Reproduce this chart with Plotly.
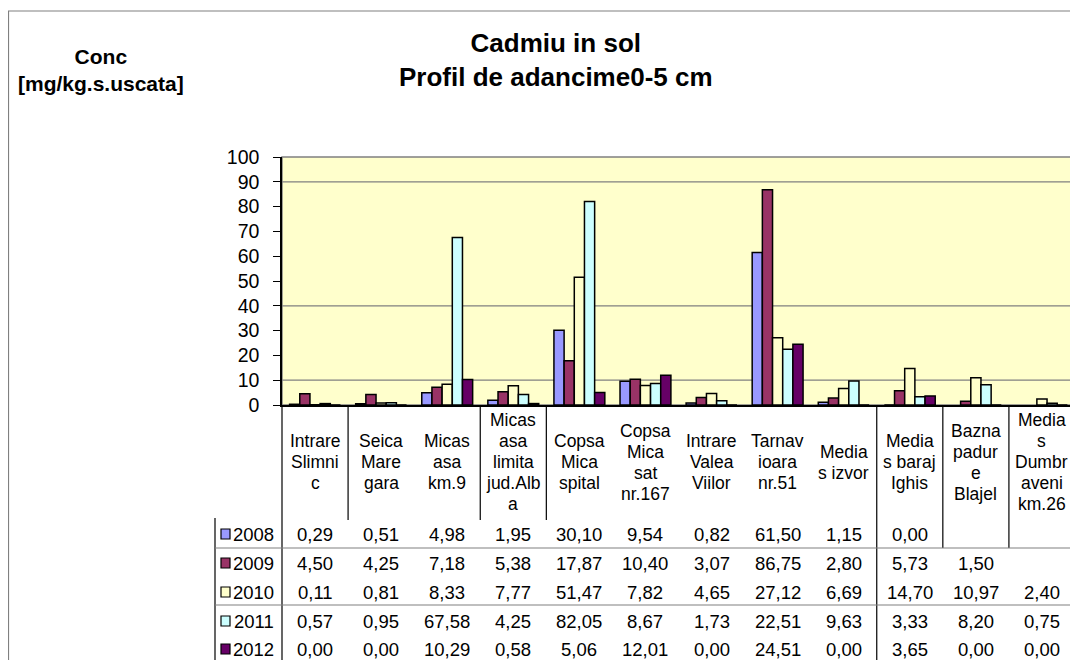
import plotly.graph_objects as go

# ---------------- data ----------------
CATEGORIES = [
    ["Intrare", "Slimni", "c"],
    ["Seica", "Mare", "gara"],
    ["Micas", "asa", "km.9"],
    ["Micas", "asa", "limita", "jud.Alb", "a"],
    ["Copsa", "Mica", "spital"],
    ["Copsa", "Mica", "sat", "nr.167"],
    ["Intrare", "Valea", "Viilor"],
    ["Tarnav", "ioara", "nr.51"],
    ["Media", "s izvor"],
    ["Media", "s baraj", "Ighis"],
    ["Bazna", "padur", "e", "Blajel"],
    ["Media", "s", "Dumbr", "aveni", "km.26"],
]
YEARS = ["2008", "2009", "2010", "2011", "2012"]
Y2008 = [0.29, 0.51, 4.98, 1.95, 30.10, 9.54, 0.82, 61.50, 1.15, 0.00, None, None]
Y2009 = [4.50, 4.25, 7.18, 5.38, 17.87, 10.40, 3.07, 86.75, 2.80, 5.73, 1.50, None]
Y2010 = [0.11, 0.81, 8.33, 7.77, 51.47, 7.82, 4.65, 27.12, 6.69, 14.70, 10.97, 2.40]
Y2011 = [0.57, 0.95, 67.58, 4.25, 82.05, 8.67, 1.73, 22.51, 9.63, 3.33, 8.20, 0.75]
Y2012 = [0.00, 0.00, 10.29, 0.58, 5.06, 12.01, 0.00, 24.51, 0.00, 3.65, 0.00, 0.00]
SERIES = [Y2008, Y2009, Y2010, Y2011, Y2012]
COLORS = ["#9999FF", "#993366", "#FFFFCC", "#CCFFFF", "#660066"]

TITLE = "Cadmiu in sol<br>Profil de adancime0-5 cm"
YLABEL = "Conc<br>[mg/kg.s.uscata]"
Y_TICKS = list(range(0, 101, 10))
GRID_VALUES = [10, 40, 90]

FONT = "Arial, Liberation Sans, sans-serif"

# ---------------- layout geometry (screen pixels) ----------------
W, H = 1078, 660
OFF = 8  # page body margin offset
L, R, T, B = 282, 1075, 157, 405
PW, PH = R - L, B - T


def px(xp):
    return (xp - L) / PW


def py(yp):
    return (B - yp) / PH


n = len(CATEGORIES)
xs = list(range(n))

fig = go.Figure()
for yr, vals, col in zip(YEARS, SERIES, COLORS):
    fig.add_trace(go.Bar(
        x=xs, y=vals, name=yr,
        marker=dict(color=col, line=dict(color="black", width=1.5)),
        showlegend=False,
    ))

shapes = []
annotations = []

# outer chart border
shapes.append(dict(type="rect", xref="paper", yref="paper",
                   x0=px(8.5), x1=px(1110), y0=py(11), y1=py(700),
                   line=dict(color="#808080", width=1.2), fillcolor="rgba(0,0,0,0)", layer="below"))
# plot area border (top/right gray)
shapes.append(dict(type="rect", xref="paper", yref="paper", x0=0, x1=1, y0=0, y1=1,
                   line=dict(color="#808080", width=1.5), layer="below"))
# gridlines
for g in GRID_VALUES:
    shapes.append(dict(type="line", xref="paper", yref="y", x0=0, x1=1, y0=g, y1=g,
                       line=dict(color="#808080", width=1.2), layer="below"))

# ---------------- data table ----------------
HEADER_CENTER = 462
LINE_SP = 21
for k, lines in enumerate(CATEGORIES):
    m = len(lines)
    for i, t in enumerate(lines):
        yc = HEADER_CENTER + (i - (m - 1) / 2) * LINE_SP
        annotations.append(dict(x=k, xref="x", y=py(yc), yref="paper", text=t,
                                showarrow=False, xanchor="center", yanchor="middle",
                                font=dict(family=FONT, size=17.5, color="black")))

ROW_Y = [534, 563, 592, 621, 649]
for r, (yr, vals, col) in enumerate(zip(YEARS, SERIES, COLORS)):
    yc = ROW_Y[r]
    for k, v in enumerate(vals):
        if v is None:
            continue
        annotations.append(dict(x=k, xref="x", y=py(yc), yref="paper",
                                text=f"{v:.2f}".replace(".", ","),
                                showarrow=False, xanchor="center", yanchor="middle",
                                font=dict(family=FONT, size=18.5, color="black")))
    annotations.append(dict(x=px(276), xref="paper", y=py(yc), yref="paper", text=yr,
                            showarrow=False, xanchor="right", yanchor="middle",
                            font=dict(family=FONT, size=18.5, color="black")))
    shapes.append(dict(type="rect", xref="paper", yref="paper",
                       x0=px(221), x1=px(230), y0=py(yc + 5), y1=py(yc - 5),
                       fillcolor=col, line=dict(color="black", width=1.2)))

# table lines
colw = PW / n


def vline(xpix, y0, y1, color="black"):
    shapes.append(dict(type="line", xref="paper", yref="paper", x0=px(xpix), x1=px(xpix),
                       y0=py(y0), y1=py(y1), line=dict(color=color, width=1.2)))


def hline(x0, x1, ypix, color="#808080"):
    shapes.append(dict(type="line", xref="paper", yref="paper", x0=px(x0), x1=px(x1),
                       y0=py(ypix), y1=py(ypix), line=dict(color=color, width=1.2)))


vline(L, B, H)
for k in [1, 3, 4]:
    vline(L + k * colw, B, 520)
vline(L + 9 * colw, B, H)
for k in [10, 11]:
    vline(L + k * colw, B, 548)
vline(215, 518, H)
hline(215, R, 548)
hline(215, R, 605)

# titles
annotations.append(dict(x=px(556), xref="paper", y=py(60), yref="paper",
                        text="<b>" + TITLE.replace("<br>", "</b><br><b>") + "</b>",
                        showarrow=False, xanchor="center", yanchor="middle",
                        font=dict(family=FONT, size=26, color="black")))
annotations.append(dict(x=px(101), xref="paper", y=py(70), yref="paper",
                        text="<b>" + YLABEL.replace("<br>", "</b><br><b>") + "</b>",
                        showarrow=False, xanchor="center", yanchor="middle",
                        font=dict(family=FONT, size=21, color="black")))

fig.update_layout(
    width=W - OFF, height=H - OFF,
    margin=dict(l=L - OFF, r=W - R, t=T - OFF, b=H - B, pad=0),
    paper_bgcolor="white",
    plot_bgcolor="#FFFFCC",
    barmode="group", bargap=0.23, bargroupgap=0,
    shapes=shapes, annotations=annotations,
    xaxis=dict(range=[-0.5, n - 0.5], showticklabels=False, showgrid=False, zeroline=False,
               showline=True, linecolor="black", linewidth=1.5, ticks=""),
    yaxis=dict(range=[0, 100], tickvals=Y_TICKS, showgrid=False, zeroline=False,
               showline=True, linecolor="black", linewidth=1.5,
               ticks="outside", ticklen=7, tickcolor="black", tickwidth=1.2,
               ticklabelstandoff=10,
               tickfont=dict(family=FONT, size=19.5, color="black")),
    font=dict(family=FONT, color="black"),
)

fig.write_html("out.html")
